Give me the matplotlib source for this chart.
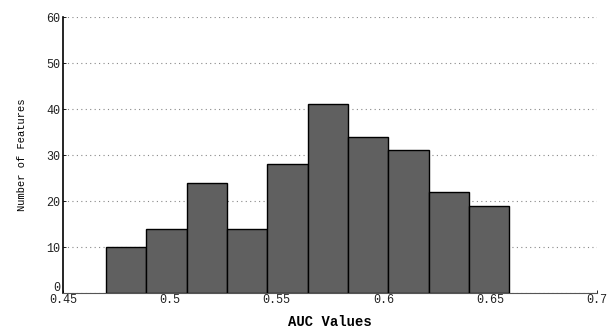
import numpy as np
import matplotlib
matplotlib.use('Agg')
import matplotlib.pyplot as plt
from matplotlib.transforms import ScaledTranslation

# histogram of AUC values per feature
bin_lo = 0.4701
bin_hi = 0.6589
counts = [10, 14, 24, 14, 28, 41, 34, 31, 22, 19]
xticks = [0.45, 0.5, 0.55, 0.6, 0.65, 0.7]
xticklabels = ['0.45', '0.5', '0.55', '0.6', '0.65', '0.7']
yticks = [0, 10, 20, 30, 40, 50, 60]

edges = np.linspace(bin_lo, bin_hi, len(counts) + 1)
widths = np.diff(edges)

fig = plt.figure(figsize=(6.16, 3.29), dpi=100)
ax = fig.add_axes([0.1023, 0.1094, 0.8669, 0.8389])

ax.bar(edges[:-1], counts, width=widths, align='edge',
       color='#606060', edgecolor='black', linewidth=1.0, zorder=3)

ax.set_xlim(0.45, 0.7)
ax.set_ylim(0, 60)
ax.set_xticks(xticks)
ax.set_xticklabels(xticklabels)
ax.set_yticks(yticks)
ax.yaxis.grid(True, linestyle=(0, (1, 3)), color='#888888', linewidth=0.8, zorder=0)

for s in ['top', 'right']:
    ax.spines[s].set_visible(False)
ax.spines['left'].set_linewidth(1.2)
ax.spines['bottom'].set_linewidth(0.8)
ax.spines['bottom'].set_color('#555555')

mono = 'Liberation Mono'
ax.tick_params(direction='in', length=2, width=0.6, pad=2)
ax.tick_params(axis='x', pad=1)
for lab in ax.get_xticklabels() + ax.get_yticklabels():
    lab.set_fontfamily(mono)
    lab.set_fontsize(8.5)
    lab.set_color('#222222')

# nudge the zero label up so it clears 0.45
zero_lab = ax.get_yticklabels()[0]
zero_lab.set_transform(zero_lab.get_transform() +
                       ScaledTranslation(0, 5 / 72, fig.dpi_scale_trans))

ax.set_xlabel('AUC Values', fontfamily=mono, fontsize=10,
              fontweight='bold', labelpad=6)
ax.set_ylabel('Number of Features', fontfamily=mono, fontsize=7.5, labelpad=14)

fig.savefig('out.png', dpi=100)
